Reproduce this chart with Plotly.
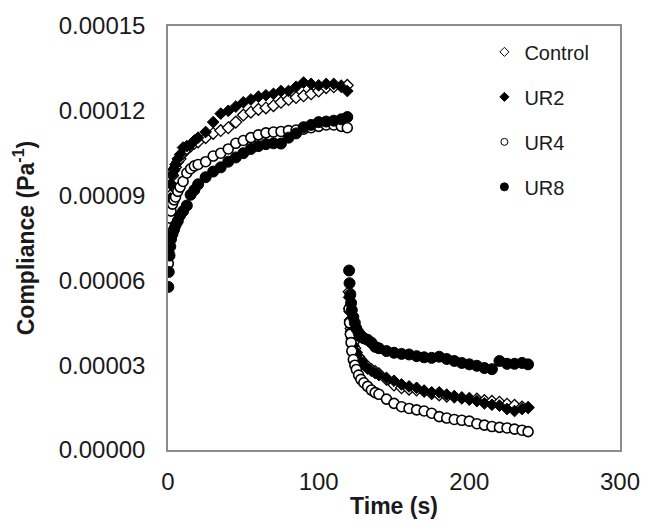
import plotly.graph_objects as go

# Time points (s): creep phase then recovery phase
t_creep = [0.2, 0.5, 1, 1.5, 2, 3, 4, 5, 6.5, 8, 10, 12.5, 15, 17.5, 20, 25, 30, 35, 40, 45,
           50, 55, 60, 65, 70, 75, 80, 85, 90, 95, 100, 105, 110, 115, 119]
t_recov = [120.2, 120.5, 121, 121.5, 122, 123, 124, 125, 126.5, 128, 130, 132.5, 135, 137.5, 140,
           145, 150, 155, 160, 165, 170, 175, 180, 185, 190, 195, 200, 205, 210, 215, 220, 225,
           230, 235, 239]

# Compliance values in units of 1e-5 Pa^-1
control_creep = [7.0, 7.9, 8.6, 9.0, 9.4, 9.7, 9.9, 10.0, 10.2, 10.3, 10.5, 10.65, 10.75, 10.85,
                 10.9, 11.05, 11.2, 11.3, 11.4, 11.6, 11.85, 11.95, 12.05, 12.1, 12.18, 12.3,
                 12.4, 12.47, 12.53, 12.6, 12.7, 12.82, 12.85, 12.88, 12.9]
control_recov = [5.6, 5.0, 4.6, 4.3, 4.05, 3.8, 3.6, 3.45, 3.3, 3.2, 3.05, 2.95, 2.85, 2.78, 2.7,
                 2.5, 2.3, 2.2, 2.15, 2.12, 2.08, 2.0, 1.95, 1.9, 1.88, 1.85, 1.82, 1.8, 1.75,
                 1.72, 1.69, 1.62, 1.58, 1.52, 1.5]
ur2_creep = [6.8, 7.6, 8.3, 8.9, 9.4, 9.75, 9.95, 10.1, 10.3, 10.45, 10.7, 10.75, 10.8, 10.95,
             11.05, 11.25, 11.6, 11.9, 12.0, 12.15, 12.3, 12.4, 12.5, 12.55, 12.6, 12.7, 12.7,
             12.85, 13.0, 12.95, 12.9, 12.95, 12.95, 12.85, 12.7]
ur2_recov = [5.4, 4.9, 4.5, 4.2, 3.95, 3.7, 3.5, 3.35, 3.2, 3.12, 3.0, 2.88, 2.8, 2.72, 2.65,
             2.55, 2.45, 2.32, 2.25, 2.2, 2.1, 2.04, 2.04, 1.96, 1.9, 1.83, 1.78, 1.73, 1.65,
             1.6, 1.57, 1.45, 1.38, 1.45, 1.5]
ur4_creep = [6.6, 7.3, 7.9, 8.2, 8.45, 8.7, 8.85, 8.95, 9.15, 9.3, 9.5, 9.8, 9.95, 10.05, 10.1,
             10.2, 10.4, 10.5, 10.65, 10.85, 10.95, 11.05, 11.15, 11.22, 11.25, 11.27, 11.3,
             11.32, 11.35, 11.4, 11.45, 11.5, 11.5, 11.45, 11.4]
ur4_recov = [5.0, 4.5, 4.1, 3.8, 3.5, 3.2, 3.0, 2.85, 2.65, 2.5, 2.38, 2.25, 2.12, 2.03, 1.97,
             1.8, 1.65, 1.53, 1.47, 1.42, 1.38, 1.3, 1.18, 1.13, 1.08, 1.05, 1.02, 0.93, 0.88,
             0.83, 0.8, 0.78, 0.74, 0.7, 0.65]
ur8_creep = [5.77, 6.3, 6.88, 7.2, 7.46, 7.65, 7.8, 7.95, 8.1, 8.3, 8.45, 8.65, 9.03, 9.2, 9.4,
             9.65, 9.85, 10.0, 10.2, 10.35, 10.5, 10.65, 10.75, 10.82, 10.85, 10.84, 11.05,
             11.2, 11.42, 11.5, 11.6, 11.62, 11.65, 11.7, 11.78]
ur8_recov = [6.35, 5.9, 5.5, 5.2, 4.95, 4.7, 4.5, 4.3, 4.15, 4.05, 3.95, 3.9, 3.8, 3.65, 3.6,
             3.5, 3.44, 3.4, 3.38, 3.32, 3.28, 3.26, 3.3, 3.22, 3.15, 3.08, 3.03, 2.98, 2.9,
             2.86, 3.15, 3.05, 3.05, 3.08, 3.03]

series_names = ["Control", "UR2", "UR4", "UR8"]
x_ticks = [0, 100, 200, 300]
y_ticks = [0, 0.00003, 0.00006, 0.00009, 0.00012, 0.00015]

SCALE = 1e-5
t_all = t_creep + t_recov
data = {
    "Control": control_creep + control_recov,
    "UR2": ur2_creep + ur2_recov,
    "UR4": ur4_creep + ur4_recov,
    "UR8": ur8_creep + ur8_recov,
}
styles = {
    "Control": dict(symbol="diamond", color="white", size=9, line=dict(color="black", width=1.3)),
    "UR2": dict(symbol="diamond", color="black", size=9, line=dict(color="black", width=1)),
    "UR4": dict(symbol="circle", color="white", size=10, line=dict(color="black", width=1.6)),
    "UR8": dict(symbol="circle", color="black", size=11, line=dict(color="black", width=1)),
}
legend_styles = {
    "Control": dict(symbol="diamond", color="white", size=7, line=dict(color="black", width=1)),
    "UR2": dict(symbol="diamond", color="black", size=7, line=dict(color="black", width=1)),
    "UR4": dict(symbol="circle", color="white", size=7, line=dict(color="black", width=1)),
    "UR8": dict(symbol="circle", color="black", size=8, line=dict(color="black", width=1)),
}

fig = go.Figure()
for name in series_names:
    fig.add_trace(go.Scatter(
        x=t_all, y=[v * SCALE for v in data[name]], mode="markers",
        marker=styles[name], name=name, showlegend=False, hoverinfo="x+y+name"))
for name in series_names:
    fig.add_trace(go.Scatter(
        x=[None], y=[None], mode="markers", marker=legend_styles[name],
        name=name, legendgroup=name, showlegend=True))

font_family = "Liberation Sans, Arial, sans-serif"
fig.update_layout(
    width=652, height=528,
    margin=dict(l=168, r=22, t=21, b=78),
    paper_bgcolor="white", plot_bgcolor="white",
    font=dict(family=font_family, color="#1a1a1a"),
    showlegend=True,
    legend=dict(x=0.70, y=0.985, xanchor="left", yanchor="top",
                font=dict(size=20, family=font_family, color="#1a1a1a"),
                bgcolor="rgba(0,0,0,0)", tracegroupgap=16, itemwidth=30),
    xaxis=dict(range=[0, 300], tickvals=x_ticks, showgrid=False, zeroline=False,
               showline=True, linecolor="#8c8c8c", linewidth=1.5, mirror=True,
               ticks="", tickfont=dict(size=24), ticklabelstandoff=9,
               title=dict(text="<b>Time (s)</b>", font=dict(size=23), standoff=4)),
    yaxis=dict(range=[0, 0.00015], tickvals=y_ticks, tickformat=".5f", showgrid=False,
               zeroline=False, showline=True, linecolor="#8c8c8c", linewidth=1.5, mirror=True,
               ticks="", tickfont=dict(size=24), ticklabelstandoff=16,
               title=dict(text="<b>Compliance (Pa<sup>-1</sup>)</b>", font=dict(size=23),
                          standoff=18)),
)
fig.write_html("out.html")
